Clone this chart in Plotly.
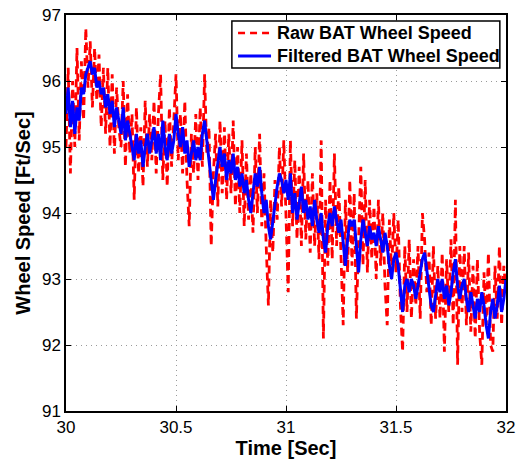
import numpy as np
import plotly.graph_objects as go

# time axis (seconds), 0.01 s sampling
t_start = 30.0
n_samples = 201
time = [round(t_start + 0.01 * i, 2) for i in range(n_samples)]

raw_speed = [
    95.0, 96.2, 94.6, 96.0, 95.0, 96.5, 95.1, 96.3, 95.4, 96.8,
    95.9, 96.6, 95.6, 96.5, 95.7, 96.4, 95.3, 96.2, 95.2, 96.2,
    95.0, 96.1, 94.9, 95.9, 95.3, 95.0, 96.0, 94.7, 95.8, 94.9,
    95.5, 94.2, 95.6, 94.6, 95.3, 94.4, 95.7, 94.7, 95.5, 94.8,
    95.7, 94.6, 95.5, 96.1, 94.5, 95.4, 94.4, 95.6, 94.7, 95.3,
    96.1, 94.8, 95.5, 94.6, 95.7, 94.5, 93.8, 95.2, 94.6, 95.5,
    94.5, 95.6, 94.7, 96.1, 94.9, 95.3, 93.5, 94.6, 95.2, 94.1,
    95.4, 94.3, 95.3, 94.2, 95.2, 94.3, 95.4, 94.1, 95.0, 94.0,
    95.1, 93.8, 94.9, 93.9, 94.6, 93.7, 95.0, 94.0, 95.2, 93.8,
    94.6, 93.5, 92.6, 94.2, 93.4, 94.5, 93.9, 95.0, 94.1, 95.1,
    94.0, 92.8, 95.1, 93.8, 94.8, 93.6, 94.7, 93.5, 94.9, 93.6,
    94.5, 93.4, 94.6, 93.5, 94.3, 93.3, 95.1, 92.1, 94.2, 93.2,
    94.5, 93.3, 94.9, 93.5, 94.4, 93.2, 92.3, 94.2, 93.1, 94.5,
    93.2, 94.3, 92.4, 93.6, 94.7, 93.2, 94.5, 93.1, 94.2, 93.3,
    94.1, 93.0, 94.2, 93.2, 94.0, 92.9, 92.3, 93.9, 93.1, 94.0,
    93.1, 93.9, 92.6, 91.9, 93.5, 92.5, 93.6, 92.4, 93.3, 92.6,
    93.5, 92.4, 94.0, 93.6, 92.8, 93.4, 92.3, 93.5, 92.4, 93.2,
    92.4, 93.4, 91.9, 93.3, 92.5, 93.6, 92.3, 94.2, 91.7, 93.5,
    92.5, 93.5, 92.3, 93.4, 92.2, 93.2, 92.1, 93.3, 92.2, 91.7,
    93.1, 92.3, 93.4, 92.0, 91.9, 93.2, 92.4, 93.5, 92.3, 93.2,
    92.8,
]

filtered_speed = [
    95.5, 95.9, 95.3, 95.7, 95.2, 95.6, 95.4, 95.9, 95.8, 96.1,
    96.2, 96.3, 96.1, 96.2, 95.9, 96.0, 95.8, 95.9, 95.6, 95.8,
    95.5, 95.7, 95.3, 95.6, 95.4, 95.2, 95.6, 95.1, 95.4, 95.2,
    95.0, 94.8, 95.2, 94.9, 95.1, 94.7, 95.0, 95.2, 94.9, 95.1,
    95.3, 94.9, 95.2, 94.8, 95.4, 95.0, 94.8, 95.2, 94.9, 95.1,
    95.5, 95.2, 95.0, 95.3, 94.9, 95.1, 94.7, 94.9, 95.1, 94.8,
    95.0, 94.8, 95.2, 95.4, 95.1, 94.8, 94.6, 94.2, 94.5, 94.8,
    95.0, 94.7, 94.9, 94.5, 94.8, 94.6, 94.9, 94.5, 94.7, 94.4,
    94.6, 94.3, 94.5, 94.2, 94.0, 94.3, 94.6, 94.4, 94.7, 94.3,
    94.0, 94.2, 93.8, 93.6, 93.9, 94.1, 94.4, 94.6, 94.5, 94.3,
    94.5, 94.2, 94.6, 94.0, 94.3, 93.9, 94.2, 94.4, 94.0, 94.2,
    93.9, 94.1, 93.8, 94.2, 93.9, 93.7, 94.0, 93.6, 93.4, 93.8,
    94.0, 93.8, 94.1, 93.9, 93.7, 93.9, 93.5, 93.2, 93.6, 93.9,
    93.8, 93.9, 93.5, 93.1, 93.6, 93.9, 93.7, 93.5, 93.8, 93.6,
    93.7, 93.5, 93.8, 93.6, 93.4, 93.7, 93.5, 93.2, 93.0, 93.3,
    93.4, 93.2, 92.8, 92.5, 92.9, 93.0, 92.8, 93.0, 92.9, 92.7,
    92.9, 93.1, 93.3, 93.4, 93.1, 92.8, 92.6, 92.5, 92.8, 93.0,
    92.8, 93.0, 92.7, 92.9, 92.6, 92.8, 93.1, 93.3, 92.9, 92.7,
    92.9, 93.0, 92.7, 92.5, 92.8, 92.6, 92.4, 92.7, 92.5, 92.8,
    92.6, 92.3, 92.1, 92.5, 92.7, 92.4, 92.6, 92.9, 92.5, 92.7,
    93.0,
]

x_ticks = [30, 30.5, 31, 31.5, 32]
x_tick_labels = ["30", "30.5", "31", "31.5", "32"]
y_ticks = [91, 92, 93, 94, 95, 96, 97]
y_tick_labels = ["91", "92", "93", "94", "95", "96", "97"]
series_names = ["Raw BAT Wheel Speed", "Filtered BAT Wheel Speed"]
series_colors = ["#ff0000", "#0000ff"]

font_family = "Liberation Sans, Arial, Helvetica, sans-serif"

fig = go.Figure()
fig.add_trace(go.Scatter(
    x=time, y=raw_speed, mode="lines", name=series_names[0],
    line=dict(color=series_colors[0], width=2.8, dash="8px,5px"),
))
fig.add_trace(go.Scatter(
    x=time, y=filtered_speed, mode="lines", name=series_names[1],
    line=dict(color=series_colors[1], width=3),
))

axis_common = dict(
    showline=True, linecolor="black", linewidth=1.5, mirror="allticks",
    ticks="inside", ticklen=5, tickcolor="black",
    showgrid=True, gridcolor="#9a9a9a", griddash="1px,4px", gridwidth=1,
    zeroline=False, automargin=False,
    tickfont=dict(family=font_family, size=17, color="black"),
)

# MATLAB-style legend box (top right, inside axes)
leg_x0, leg_x1, leg_y0, leg_y1 = 0.377, 0.986, 0.866, 0.985
row_y = [0.9545, 0.8965]
sample_x0, sample_x1, text_x = 0.391, 0.466, 0.475
shapes = [dict(type="rect", xref="paper", yref="paper",
               x0=leg_x0, x1=leg_x1, y0=leg_y0, y1=leg_y1,
               line=dict(color="black", width=1.5), fillcolor="white", layer="above")]
annotations = []
dashes = ["7px,5px", "solid"]
for name, color, dash, yy in zip(series_names, series_colors, dashes, row_y):
    shapes.append(dict(type="line", xref="paper", yref="paper",
                       x0=sample_x0, x1=sample_x1, y0=yy, y1=yy,
                       line=dict(color=color, width=2.5 if dash != "solid" else 3, dash=dash),
                       layer="above"))
    annotations.append(dict(xref="paper", yref="paper", x=text_x, y=yy,
                            xanchor="left", yanchor="middle", showarrow=False,
                            text="<b>%s</b>" % name,
                            font=dict(family=font_family, size=18, color="black")))

fig.update_layout(
    width=518, height=460,
    margin=dict(l=66, r=12, t=15, b=49),
    paper_bgcolor="white", plot_bgcolor="white",
    xaxis=dict(
        range=[30, 32], tickvals=x_ticks, ticktext=x_tick_labels,
        title=dict(text="<b>Time [Sec]</b>", font=dict(family=font_family, size=20, color="black"), standoff=4),
        **axis_common,
    ),
    yaxis=dict(
        range=[91, 97], tickvals=y_ticks, ticktext=y_tick_labels,
        title=dict(text="<b>Wheel Speed [Ft/Sec]</b>", font=dict(family=font_family, size=20, color="black"), standoff=6),
        **axis_common,
    ),
    shapes=shapes,
    annotations=annotations,
    showlegend=False,
)

fig.write_html("out.html")
